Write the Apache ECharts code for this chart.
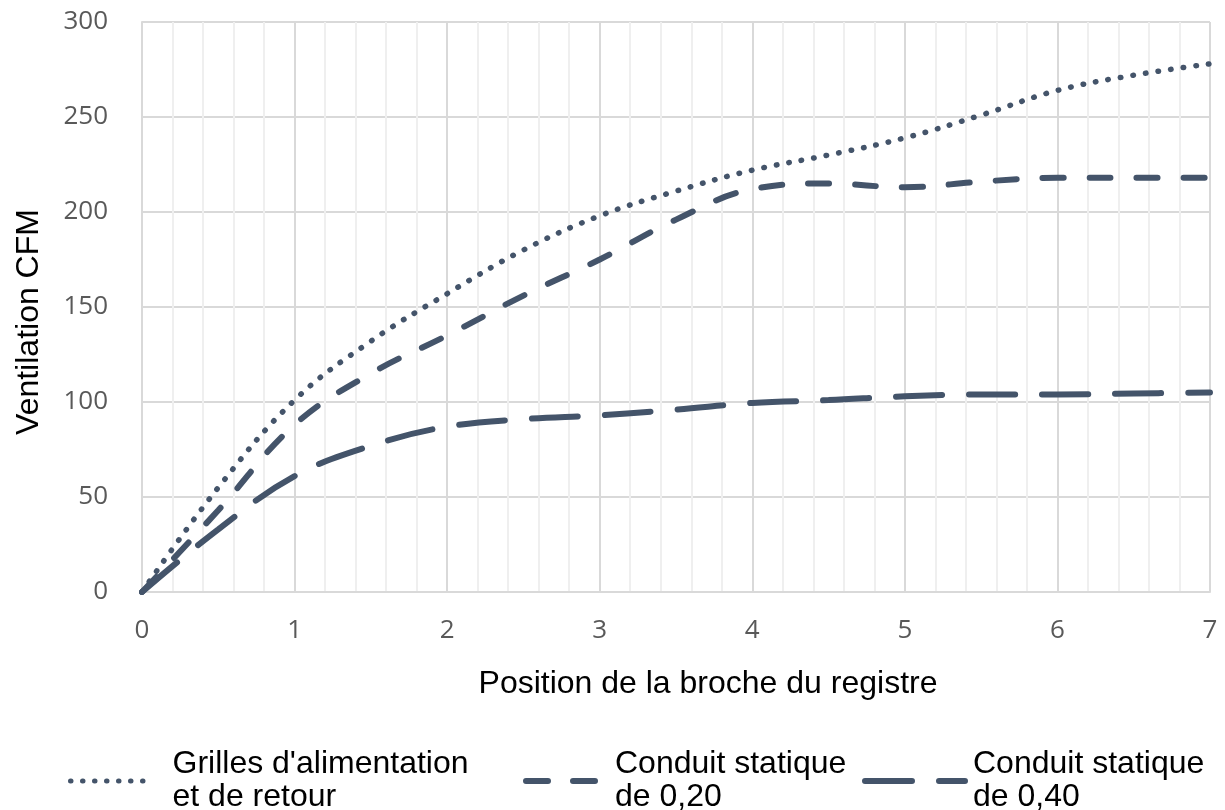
<!DOCTYPE html>
<html>
<head>
<meta charset="utf-8">
<script src="https://cdn.jsdelivr.net/npm/echarts@6/dist/echarts.min.js"></script>
<style>
html,body{margin:0;padding:0;background:#fff;}
#chart{width:1225px;height:810px;}
</style>
</head>
<body>
<div id="chart"></div>
<script>
// Data
const positions = [0, 0.5, 1, 1.5, 2, 2.5, 3, 3.5, 4, 4.5, 5, 5.5, 6, 6.5, 7];
const grilles   = [0, 55, 101, 132, 157, 180, 198, 211, 222, 230, 239, 251, 264, 272, 278];
const conduit20 = [0, 43, 88, 115, 135, 156, 175, 196, 212, 215, 213, 216, 218, 218, 218];
const conduit40 = [0, 33, 61, 77, 87, 91, 93, 96, 99.5, 101, 103, 104, 104, 104.5, 105];
const seriesNames = ["Grilles d'alimentation\net de retour", "Conduit statique\nde 0,20", "Conduit statique\nde 0,40"];
const xTicks = [0, 1, 2, 3, 4, 5, 6, 7];
const yTicks = [0, 50, 100, 150, 200, 250, 300];

const color = '#44546A';
const pairs = (ys) => positions.map((x, i) => [x, ys[i]]);

const styles = [
  {color: color, width: 5.5, type: [0.5, 12.2], cap: 'round'},
  {color: color, width: 6, type: [21, 26], cap: 'round'},
  {color: color, width: 6, type: [46, 27], cap: 'round'}
];
const legendStyles = [
  {color: color, width: 5, type: [0.5, 11.5], cap: 'round'},
  {color: color, width: 6, type: [22, 25], cap: 'round'},
  {color: color, width: 6, type: [47, 27], cap: 'round'}
];

const chart = echarts.init(document.getElementById('chart'));
const font = 'Liberation Sans, Arial, sans-serif';
const legendText = {fontFamily: font, fontSize: 32, color: '#000', lineHeight: 33};
const mkLegend = (i, left, width, gap) => ({
  data: [seriesNames[i]], left: left, top: 748, padding: 0,
  itemWidth: width, itemHeight: 14,
  itemStyle: {opacity: 0},
  lineStyle: legendStyles[i],
  textStyle: Object.assign({padding: [0, 0, 0, gap]}, legendText)
});

chart.setOption({
  animation: false,
  backgroundColor: '#fff',
  grid: {left: 142, right: 15, top: 22, bottom: 218, outerBoundsMode: 'none', containLabel: false},
  xAxis: {
    type: 'value', min: xTicks[0], max: xTicks[xTicks.length - 1], interval: 1,
    name: 'Position de la broche du registre',
    nameLocation: 'middle', nameGap: 76,
    nameTextStyle: {fontFamily: font, fontSize: 32, color: '#000', padding: [0, 0, 0, 64]},
    axisLine: {show: true, lineStyle: {color: '#d9d9d9', width: 2}},
    axisTick: {show: false},
    axisLabel: {fontFamily: 'Open Sans', fontSize: 26, color: '#595959', margin: 26},
    splitLine: {show: true, lineStyle: {color: '#d9d9d9', width: 2}},
    minorTick: {show: false, splitNumber: 5},
    minorSplitLine: {show: true, lineStyle: {color: '#efefef', width: 2}}
  },
  yAxis: {
    type: 'value', min: yTicks[0], max: yTicks[yTicks.length - 1], interval: 50,
    name: 'Ventilation CFM',
    nameLocation: 'middle', nameGap: 97, nameRotate: 90,
    nameTextStyle: {fontFamily: font, fontSize: 32, color: '#000', padding: [0, 30, 0, 0]},
    axisLine: {show: true, lineStyle: {color: '#d9d9d9', width: 2}},
    axisTick: {show: false},
    axisLabel: {fontFamily: 'Open Sans', fontSize: 26, color: '#595959', margin: 34},
    splitLine: {show: true, lineStyle: {color: '#d9d9d9', width: 2}}
  },
  legend: [
    mkLegend(0, 68, 80, 17),
    mkLegend(1, 523, 75, 9),
    mkLegend(2, 862, 100, 3)
  ],
  series: [
    {name: seriesNames[0], type: 'line', data: pairs(grilles), smooth: 0.4, symbol: 'none',
     itemStyle: {color: color}, lineStyle: styles[0]},
    {name: seriesNames[1], type: 'line', data: pairs(conduit20), smooth: 0.4, symbol: 'none',
     itemStyle: {color: color}, lineStyle: styles[1]},
    {name: seriesNames[2], type: 'line', data: pairs(conduit40), smooth: 0.4, symbol: 'none',
     itemStyle: {color: color}, lineStyle: styles[2]}
  ]
});
</script>
</body>
</html>
